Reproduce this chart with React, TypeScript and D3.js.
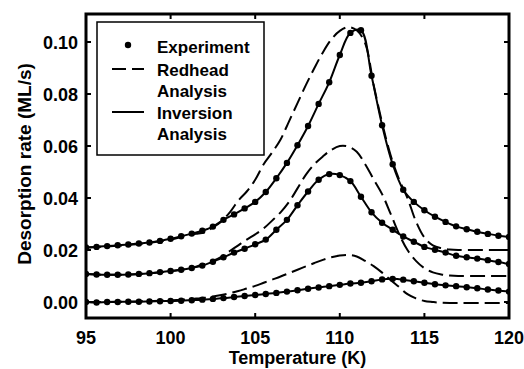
import React from "react";
import * as d3 from "d3";

// Experiment temperatures (K)
const expTemps = [
  95, 95.625, 96.25, 96.875, 97.5, 98.125, 98.75, 99.375, 100, 100.625,
  101.25, 101.875, 102.5, 103.125, 103.75, 104.375, 105, 105.625, 106.25, 106.875,
  107.5, 108.125, 108.75, 109.375, 110, 110.625, 111.25, 111.875, 112.5, 113.125,
  113.75, 114.375, 115, 115.625, 116.25, 116.875, 117.5, 118.125, 118.75, 119.375, 120,
];

// Experiment values (ML/s), three coverages (offset curves)
const expTop = [
  0.0210, 0.0212, 0.0215, 0.0218, 0.0221, 0.0225, 0.0229, 0.0235, 0.0243, 0.0253,
  0.0263, 0.0274, 0.0290, 0.0316, 0.0337, 0.0360, 0.0385, 0.0423, 0.0476, 0.0535,
  0.0603, 0.0677, 0.0762, 0.0845, 0.0950, 0.1035, 0.1045, 0.0870, 0.0680, 0.0530,
  0.0432, 0.0385, 0.0353, 0.0328, 0.0308, 0.0291, 0.0280, 0.0270, 0.0262, 0.0255, 0.0250,
];
const expMid = [
  0.0108, 0.0106, 0.0105, 0.0105, 0.0106, 0.0108, 0.0111, 0.0115, 0.0119, 0.0124,
  0.0131, 0.0140, 0.0155, 0.0172, 0.0190, 0.0205, 0.0222, 0.0240, 0.0278, 0.0316,
  0.0372, 0.0425, 0.0470, 0.0492, 0.0488, 0.0465, 0.0405, 0.0345, 0.0305, 0.0278,
  0.0252, 0.0232, 0.0212, 0.0201, 0.0190, 0.0178, 0.0172, 0.0167, 0.0161, 0.0154, 0.0146,
];
const expLow = [
  0.0000, -0.0002, 0.0000, 0.0000, 0.0001, 0.0001, 0.0002, 0.0003, 0.0004, 0.0005,
  0.0007, 0.0009, 0.0012, 0.0015, 0.0019, 0.0023, 0.0027, 0.0031, 0.0035, 0.0040,
  0.0045, 0.0051, 0.0056, 0.0061, 0.0066, 0.0071, 0.0074, 0.0080, 0.0087, 0.0089,
  0.0086, 0.0080, 0.0074, 0.0068, 0.0064, 0.0061, 0.0057, 0.0053, 0.0048, 0.0044, 0.0040,
];

// Redhead analysis temperatures (K)
const rhTemps = [
  95, 96, 97, 98, 99, 100, 100.5, 101, 101.5, 102, 102.5, 103, 103.5, 104, 104.5,
  105, 105.5, 106, 106.5, 107, 107.5, 108, 108.5, 109, 109.5, 110, 110.5, 111, 111.5,
  112, 112.5, 113, 113.5, 114, 114.5, 115, 115.5, 116, 116.5, 117, 118, 119, 120,
];
const rhTop = [
  0.0210, 0.0213, 0.0217, 0.0222, 0.0230, 0.0240, 0.0248, 0.0257, 0.0262, 0.0268, 0.0287, 0.0310, 0.0345, 0.0390, 0.0425,
  0.0470, 0.0530, 0.0575, 0.0625, 0.0695, 0.0765, 0.0835, 0.0900, 0.0960, 0.1010, 0.1043, 0.1057, 0.1045, 0.0995,
  0.0835, 0.0690, 0.0565, 0.0472, 0.0400, 0.0310, 0.0248, 0.0218, 0.0207, 0.0202, 0.0200, 0.0200, 0.0200, 0.0200,
];
const rhMid = [
  0.0108, 0.0105, 0.0105, 0.0107, 0.0112, 0.0118, 0.0123, 0.0128, 0.0136, 0.0146, 0.0158, 0.0174, 0.0196, 0.0218, 0.0240,
  0.0260, 0.0283, 0.0313, 0.0345, 0.0385, 0.0437, 0.0490, 0.0530, 0.0560, 0.0585, 0.0600, 0.0598, 0.0578, 0.0530,
  0.0472, 0.0415, 0.0340, 0.0262, 0.0200, 0.0158, 0.0130, 0.0114, 0.0106, 0.0102, 0.0100, 0.0100, 0.0100, 0.0100,
];
const rhLow = [
  0.0000, 0.0000, 0.0001, 0.0002, 0.0004, 0.0006, 0.0008, 0.0010, 0.0013, 0.0016, 0.0021, 0.0027, 0.0034, 0.0042, 0.0052,
  0.0062, 0.0074, 0.0086, 0.0098, 0.0111, 0.0124, 0.0137, 0.0150, 0.0162, 0.0172, 0.0179, 0.0181, 0.0175, 0.0158,
  0.0138, 0.0113, 0.0085, 0.0058, 0.0030, 0.0014, 0.0004, 0.0000, -0.0003, -0.0004, -0.0004, -0.0004, -0.0004, -0.0004,
];

const xTicks = [95, 100, 105, 110, 115, 120];
const yTicks = [0, 0.02, 0.04, 0.06, 0.08, 0.1];

const W = 524;
const H = 369;
const L = 86, R = 509, T = 14, B = 318;
const FONT = "'Liberation Sans', Arial, Helvetica, sans-serif";

export default function App() {
  const x = d3.scaleLinear().domain([95, 120]).range([L, R]);
  const y = d3.scaleLinear().domain([0, 0.1]).range([302, 42]);

  const line = d3
    .line<[number, number]>()
    .x((d) => x(d[0]))
    .y((d) => y(d[1]))
    .curve(d3.curveCatmullRom);

  const zip = (ts: number[], vs: number[]) => ts.map((t, i) => [t, vs[i]] as [number, number]);

  const expSeries = [expTop, expMid, expLow].map((v) => zip(expTemps, v));
  const rhSeries = [rhTop, rhMid, rhLow].map((v) => zip(rhTemps, v));

  return (
    <svg
      width={W}
      height={H}
      style={{ position: "absolute", left: 0, top: 0, background: "#fff" }}
      fontFamily={FONT}
      fontWeight="bold"
    >
      <rect x={0} y={0} width={W} height={H} fill="#fff" />
      <defs>
        <clipPath id="plot">
          <rect x={L} y={T} width={R - L} height={B - T} />
        </clipPath>
      </defs>
      <g clipPath="url(#plot)">
        {rhSeries.map((s, i) => (
          <path key={"rh" + i} d={line(s) || ""} fill="none" stroke="#000" strokeWidth={2} strokeDasharray="15,6" />
        ))}
        {expSeries.map((s, i) => (
          <path key={"inv" + i} d={line(s) || ""} fill="none" stroke="#000" strokeWidth={2} />
        ))}
        {expSeries.map((s, i) =>
          s.map((d, j) => <circle key={"e" + i + "-" + j} cx={x(d[0])} cy={y(d[1])} r={3.2} fill="#000" />)
        )}
      </g>
      {/* ticks */}
      {xTicks.map((t) => (
        <g key={"xt" + t}>
          <line x1={x(t)} x2={x(t)} y1={B} y2={B - 5} stroke="#000" strokeWidth={2} />
          <line x1={x(t)} x2={x(t)} y1={T} y2={T + 5} stroke="#000" strokeWidth={2} />
          <text x={x(t)} y={344} textAnchor="middle" fontSize={18}>
            {t}
          </text>
        </g>
      ))}
      {yTicks.map((t) => (
        <g key={"yt" + t}>
          <line x1={L} x2={L + 5} y1={y(t)} y2={y(t)} stroke="#000" strokeWidth={2} />
          <line x1={R} x2={R - 5} y1={y(t)} y2={y(t)} stroke="#000" strokeWidth={2} />
          <text x={78} y={y(t) + 6.5} textAnchor="end" fontSize={18}>
            {t.toFixed(2)}
          </text>
        </g>
      ))}
      <rect x={L} y={T} width={R - L} height={B - T} fill="none" stroke="#000" strokeWidth={3} />
      {/* axis titles */}
      <text x={(L + R) / 2} y={364} textAnchor="middle" fontSize={18}>
        Temperature (K)
      </text>
      <text transform={`translate(31,164) rotate(-90)`} textAnchor="middle" fontSize={19}>
        Desorption rate (ML/s)
      </text>
      {/* legend */}
      <g>
        <rect x={97} y={22} width={167} height={133} fill="#fff" stroke="#000" strokeWidth={1.5} />
        <circle cx={128} cy={45} r={3.2} fill="#000" />
        <text x={157} y={52.5} fontSize={17}>Experiment</text>
        <line x1={112} x2={144} y1={69} y2={69} stroke="#000" strokeWidth={2} strokeDasharray="14,6" />
        <text x={157} y={75.5} fontSize={17}>Redhead</text>
        <text x={157} y={97} fontSize={17}>Analysis</text>
        <line x1={112} x2={144} y1={112} y2={112} stroke="#000" strokeWidth={2} />
        <text x={157} y={118.5} fontSize={17}>Inversion</text>
        <text x={157} y={140} fontSize={17}>Analysis</text>
      </g>
    </svg>
  );
}
